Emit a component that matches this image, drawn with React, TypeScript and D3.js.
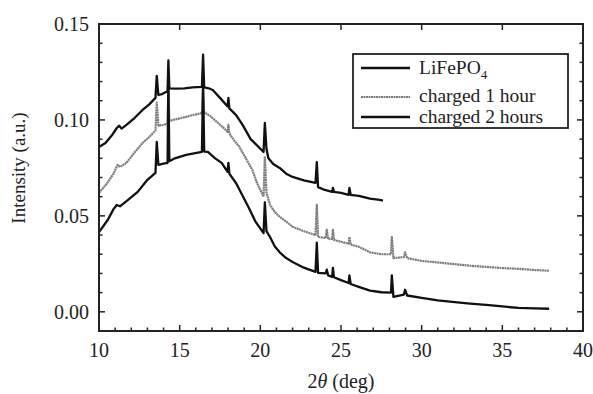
import { useEffect, useRef } from 'react'
import * as d3 from 'd3'

// [2theta, intensity]
const lifepo4: [number, number][] = [
  [10.0, 0.0859], [10.4, 0.088], [10.8, 0.092], [11.1, 0.0958], [11.25, 0.097], [11.4, 0.0955],
  [11.7, 0.0974], [12.2, 0.101], [12.7, 0.1052], [13.1, 0.108], [13.5, 0.1115], [13.58, 0.123],
  [13.68, 0.113], [13.9, 0.1135], [14.25, 0.115], [14.3, 0.131], [14.36, 0.1165], [14.8, 0.1163],
  [15.3, 0.1165], [15.8, 0.117], [16.38, 0.1172], [16.45, 0.134], [16.52, 0.117], [16.8, 0.1165],
  [17.05, 0.1156], [17.5, 0.1115], [17.97, 0.107], [18.02, 0.1115], [18.08, 0.106], [18.5, 0.1025],
  [18.9, 0.0974], [19.4, 0.09], [20.2, 0.0833], [20.28, 0.0984], [20.38, 0.085], [20.5, 0.08],
  [20.8, 0.077], [21.2, 0.075], [21.6, 0.072], [22.0, 0.0703], [22.7, 0.0685], [23.42, 0.0672],
  [23.5, 0.078], [23.58, 0.065], [24.0, 0.0635], [24.45, 0.0625], [24.5, 0.0646], [24.56, 0.0625],
  [25.0, 0.062], [25.47, 0.061], [25.52, 0.0646], [25.6, 0.061], [26.1, 0.0604], [26.8, 0.059],
  [27.4, 0.0583], [27.6, 0.058],
]

const charged1h: [number, number][] = [
  [10.0, 0.062], [10.5, 0.067], [10.9, 0.072], [11.15, 0.0766], [11.3, 0.0755], [11.7, 0.0776],
  [12.2, 0.083], [12.7, 0.088], [13.1, 0.091], [13.5, 0.0945], [13.58, 0.109], [13.68, 0.097],
  [14.0, 0.0975], [14.25, 0.098], [14.3, 0.117], [14.36, 0.0995], [14.6, 0.1], [15.0, 0.1008],
  [15.4, 0.1016], [15.8, 0.1025], [16.38, 0.1036], [16.45, 0.1146], [16.52, 0.104], [16.9, 0.102],
  [17.3, 0.099], [17.7, 0.096], [17.97, 0.0938], [18.02, 0.0974], [18.08, 0.093], [18.4, 0.089],
  [18.7, 0.086], [19.1, 0.08], [19.5, 0.074], [19.8, 0.067], [20.2, 0.06], [20.28, 0.081],
  [20.38, 0.062], [20.6, 0.0557], [20.9, 0.052], [21.2, 0.0495], [21.6, 0.047], [22.0, 0.0443],
  [22.7, 0.042], [23.42, 0.04], [23.5, 0.0557], [23.58, 0.039], [24.05, 0.0385], [24.12, 0.0427],
  [24.2, 0.038], [24.45, 0.038], [24.5, 0.0427], [24.56, 0.0375], [25.0, 0.0365], [25.47, 0.0355],
  [25.52, 0.039], [25.6, 0.035], [26.1, 0.0339], [26.8, 0.031], [27.5, 0.03], [28.1, 0.03],
  [28.15, 0.039], [28.25, 0.028], [28.9, 0.0285], [28.97, 0.031], [29.1, 0.028], [30.0, 0.0265],
  [31.0, 0.0257], [31.9, 0.025], [33.0, 0.024], [34.0, 0.0234], [35.0, 0.0228], [36.0, 0.0224],
  [37.0, 0.0218], [37.9, 0.0214],
]

const charged2h: [number, number][] = [
  [10.0, 0.0415], [10.55, 0.048], [10.9, 0.0535], [11.1, 0.0557], [11.3, 0.055], [11.8, 0.0583],
  [12.4, 0.0625], [13.0, 0.0688], [13.5, 0.0724], [13.58, 0.0885], [13.68, 0.0766], [14.0, 0.0772],
  [14.25, 0.0776], [14.3, 0.12], [14.36, 0.0785], [14.7, 0.08], [15.4, 0.0818], [16.38, 0.0833],
  [16.45, 0.12], [16.52, 0.0835], [16.75, 0.0833], [17.2, 0.08], [17.6, 0.0776], [17.97, 0.073],
  [18.02, 0.0776], [18.08, 0.072], [18.5, 0.067], [18.9, 0.0605], [19.3, 0.054], [19.7, 0.047],
  [20.2, 0.041], [20.28, 0.057], [20.38, 0.042], [20.6, 0.039], [20.9, 0.034], [21.2, 0.031],
  [21.6, 0.028], [22.0, 0.026], [22.7, 0.023], [23.42, 0.0208], [23.5, 0.036], [23.58, 0.0203],
  [24.05, 0.02], [24.12, 0.022], [24.2, 0.019], [24.45, 0.0182], [24.5, 0.0229], [24.56, 0.018],
  [25.0, 0.0165], [25.47, 0.015], [25.52, 0.019], [25.6, 0.0145], [26.1, 0.013], [26.8, 0.011],
  [27.5, 0.0102], [28.1, 0.01], [28.15, 0.019], [28.25, 0.0078], [28.9, 0.009], [28.97, 0.0115],
  [29.1, 0.0085], [30.0, 0.0073], [31.0, 0.006], [31.9, 0.0052], [33.0, 0.0043], [34.0, 0.0036],
  [35.0, 0.0028], [36.0, 0.002], [37.0, 0.0018], [37.9, 0.0016],
]

const xTicks = [10, 15, 20, 25, 30, 35, 40]
const yTicks = [0, 0.05, 0.1, 0.15]
const legendLabels = ['LiFePO', 'charged 1 hour', 'charged 2 hours']

const FONT = '"Liberation Serif", "Times New Roman", serif'
const GRAY = '#7c7c7c'
const GRAY_DASH = '2 0.5'

export default function App() {
  const ref = useRef<SVGSVGElement | null>(null)

  useEffect(() => {
    const svg = d3.select(ref.current)
    svg.selectAll('*').remove()

    const left = 99, right = 583, top = 24, bottom = 331

    const x = d3.scaleLinear().domain([10, 40]).range([left, right])
    const y = d3.scaleLinear().domain([-0.01, 0.15]).range([bottom, top])

    const line = d3.line<[number, number]>()
      .x(d => x(d[0]))
      .y(d => y(d[1]))

    // curves
    svg.append('path')
      .datum(charged1h)
      .attr('d', line)
      .attr('fill', 'none')
      .attr('stroke', GRAY)
      .attr('stroke-width', 2.2)
      .attr('stroke-dasharray', GRAY_DASH)
      .attr('stroke-linejoin', 'round')

    ;[lifepo4, charged2h].forEach(series => {
      svg.append('path')
        .datum(series)
        .attr('d', line)
        .attr('fill', 'none')
        .attr('stroke', '#111')
        .attr('stroke-width', 2.3)
        .attr('stroke-linejoin', 'round')
    })

    // ticks, all pointing inward
    const g = svg.append('g').attr('stroke', '#222').attr('stroke-width', 1.5)
    d3.range(11, 40).forEach(v => {
      const len = v % 5 === 0 ? 6 : 3.5
      g.append('line').attr('x1', x(v)).attr('x2', x(v)).attr('y1', bottom).attr('y2', bottom - len)
      if (v % 5 === 0) {
        g.append('line').attr('x1', x(v)).attr('x2', x(v)).attr('y1', top).attr('y2', top + 6)
      }
    })
    d3.range(-1, 15).map(i => i / 100).forEach((v, i) => {
      const major = (i - 1) % 5 === 0
      const len = major ? 6 : 3.5
      g.append('line').attr('x1', left).attr('x2', left + len).attr('y1', y(v)).attr('y2', y(v))
      g.append('line').attr('x1', right).attr('x2', right - len).attr('y1', y(v)).attr('y2', y(v))
    })

    // frame
    svg.append('rect')
      .attr('x', left).attr('y', top)
      .attr('width', right - left).attr('height', bottom - top)
      .attr('fill', 'none').attr('stroke', '#222').attr('stroke-width', 2)

    // tick labels
    svg.selectAll('.xl')
      .data(xTicks)
      .enter().append('text')
      .attr('x', d => x(d))
      .attr('y', 357)
      .attr('text-anchor', 'middle')
      .style('font-family', FONT)
      .style('font-size', '20px')
      .attr('fill', '#222')
      .text(d => d)

    svg.selectAll('.yl')
      .data(yTicks)
      .enter().append('text')
      .attr('x', 89)
      .attr('y', d => y(d) + 7)
      .attr('text-anchor', 'end')
      .style('font-family', FONT)
      .style('font-size', '20px')
      .attr('fill', '#222')
      .text(d => d3.format('.2f')(d))

    // axis titles
    const xt = svg.append('text')
      .attr('x', (left + right) / 2)
      .attr('y', 388)
      .attr('text-anchor', 'middle')
      .style('font-family', FONT)
      .style('font-size', '20px')
      .attr('fill', '#222')
    xt.append('tspan').text('2')
    xt.append('tspan').style('font-style', 'italic').text('θ')
    xt.append('tspan').text(' (deg)')

    svg.append('text')
      .attr('transform', `translate(25,168) rotate(-90)`)
      .attr('text-anchor', 'middle')
      .style('font-family', FONT)
      .style('font-size', '19px')
      .attr('fill', '#222')
      .text('Intensity (a.u.)')

    // legend
    const lg = svg.append('g')
    lg.append('rect')
      .attr('x', 353).attr('y', 54).attr('width', 215).attr('height', 74)
      .attr('fill', '#fff').attr('stroke', '#222').attr('stroke-width', 1.8)

    const rows = [
      { ly: 68, ty: 74, stroke: '#111', dash: null as string | null, w: 2.3 },
      { ly: 97, ty: 102, stroke: GRAY, dash: GRAY_DASH, w: 2.2 },
      { ly: 117, ty: 123, stroke: '#111', dash: null as string | null, w: 2.3 },
    ]
    rows.forEach((r, i) => {
      const l = lg.append('line')
        .attr('x1', 361).attr('x2', 410).attr('y1', r.ly).attr('y2', r.ly)
        .attr('stroke', r.stroke).attr('stroke-width', r.w)
      if (r.dash) l.attr('stroke-dasharray', r.dash)
      const t = lg.append('text')
        .attr('x', 419).attr('y', r.ty)
        .style('font-family', FONT)
        .style('font-size', '19.5px')
        .attr('fill', '#222')
      t.append('tspan').text(legendLabels[i])
      if (i === 0) {
        t.append('tspan').attr('dy', 5).style('font-size', '13px').text('4')
      }
    })
  }, [])

  return (
    <svg
      ref={ref}
      width={593}
      height={394}
      style={{ position: 'absolute', left: 0, top: 0, background: '#fff' }}
    />
  )
}
